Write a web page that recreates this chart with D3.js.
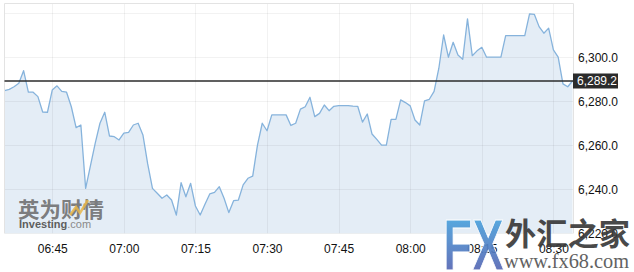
<!DOCTYPE html>
<html>
<head>
<meta charset="utf-8">
<script src="https://cdn.jsdelivr.net/npm/d3@7"></script>
<style>
  html, body { margin: 0; padding: 0; background: #fff; }
  svg { display: block; }
</style>
</head>
<body>
<svg id="chart" width="634" height="272"></svg>
<script>
// ---- data ----
const startTime = "06:35";           // first 1-minute bar
const values = [
  6284.8, 6285.4, 6286.6, 6288.2, 6293.9, 6284.1, 6284.1, 6282.1, 6275.1, 6275.0,
  6285.1, 6287.0, 6284.5, 6284.1, 6277.5, 6268.0, 6269.2, 6240.4, 6250.6, 6260.9,
  6270.0, 6275.0, 6264.2, 6263.9, 6262.4, 6265.5, 6265.9, 6269.2, 6270.0, 6264.7,
  6251.5, 6240.4, 6238.2, 6235.9, 6237.4, 6235.1, 6228.3, 6243.0, 6236.6, 6242.7,
  6232.4, 6228.3, 6233.2, 6237.9, 6238.6, 6241.2, 6235.9, 6229.4, 6234.8, 6235.1,
  6242.0, 6245.0, 6246.0, 6260.1, 6270.0, 6266.6, 6273.8, 6273.8, 6273.8, 6273.8,
  6269.0, 6270.0, 6276.4, 6277.5, 6281.8, 6273.0, 6274.5, 6278.3, 6275.7, 6277.7,
  6278.0, 6278.0, 6278.0, 6277.8, 6277.7, 6270.5, 6274.2, 6265.1, 6262.7, 6260.1,
  6260.1, 6271.8, 6271.8, 6280.6, 6279.4, 6277.9, 6271.5, 6269.2, 6280.2, 6280.9,
  6284.5, 6295.0, 6310.1, 6300.0, 6306.8, 6301.0, 6299.1, 6317.4, 6300.7, 6302.9,
  6304.5, 6300.0, 6300.0, 6300.0, 6300.0, 6309.8, 6309.8, 6309.8, 6309.8, 6309.8,
  6319.7, 6319.5, 6313.9, 6310.9, 6313.2, 6303.3, 6300.0, 6287.9, 6286.6, 6289.2
];
const lastPrice = 6289.2;
const xTickLabels = ["06:45", "07:00", "07:15", "07:30", "07:45", "08:00", "08:15", "08:30"];
const yGridValues = [6220, 6240, 6260, 6280, 6300, 6320];
const yTickValues = [6220, 6240, 6260, 6280, 6300];

// ---- setup ----
const parse = d3.timeParse("%H:%M");
const t0 = parse(startTime);
const data = values.map((v, i) => ({ t: d3.timeMinute.offset(t0, i), v }));
const xTicks = xTickLabels.map(parse);

const plot = { left: 4.5, right: 573.5, top: 3.5, bottom: 233.3 };

const x = d3.scaleTime()
  .domain([data[0].t, data[data.length - 1].t])
  .range([4.5, 572.5]);
const y = d3.scaleLinear()
  .domain([6220, 6324.5])
  .range([233.3, 3.3]);

const svg = d3.select("#chart");
const font = "'Liberation Sans', Arial, sans-serif";

// area
const area = d3.area().x(d => x(d.t)).y0(plot.bottom).y1(d => y(d.v));
svg.append("path").datum(data)
  .attr("d", area)
  .attr("fill", "#e4edf6");

// gridlines
const grid = svg.append("g").attr("stroke", "#000").attr("stroke-opacity", 0.05).attr("stroke-width", 1);
grid.selectAll("line.h").data(yGridValues).join("line")
  .attr("x1", plot.left).attr("x2", plot.right)
  .attr("y1", d => Math.round(y(d)) + 0.5).attr("y2", d => Math.round(y(d)) + 0.5);
grid.selectAll("line.v").data(xTicks).join("line")
  .attr("y1", plot.top).attr("y2", plot.bottom)
  .attr("x1", d => Math.round(x(d)) + 0.5).attr("x2", d => Math.round(x(d)) + 0.5);

// line
const line = d3.line().x(d => x(d.t)).y(d => y(d.v));
svg.append("path").datum(data)
  .attr("d", line)
  .attr("fill", "none")
  .attr("stroke", "#86b3dc")
  .attr("stroke-width", 1.3)
  .attr("stroke-linejoin", "round");

// border (top, left, right)
svg.append("path")
  .attr("d", `M${plot.left},${plot.bottom}V${plot.top}H${plot.right}V${plot.bottom}`)
  .attr("fill", "none").attr("stroke", "#e3e3e3").attr("stroke-width", 1);

// x axis labels
const xAxis = d3.axisBottom(x).tickValues(xTicks).tickFormat(d3.timeFormat("%H:%M")).tickSize(0).tickPadding(0);
const gx = svg.append("g").attr("transform", `translate(0,${plot.bottom + 11})`).call(xAxis);
gx.select(".domain").remove();
gx.selectAll("text").attr("font-family", font).attr("font-size", 12).attr("fill", "#111").attr("dy", "0.71em");

// y axis labels
const yAxis = d3.axisRight(y).tickValues(yTickValues).tickFormat(d3.format(",.1f")).tickSize(0).tickPadding(0);
const gy = svg.append("g").attr("transform", `translate(578,0)`).call(yAxis);
gy.select(".domain").remove();
gy.selectAll("text").attr("font-family", font).attr("font-size", 12).attr("fill", "#111");

// last price line + label
svg.append("line")
  .attr("x1", plot.left).attr("x2", plot.right)
  .attr("y1", y(lastPrice)).attr("y2", y(lastPrice))
  .attr("stroke", "#2b2b2b").attr("stroke-width", 1.3);
svg.append("rect")
  .attr("x", 573).attr("y", y(lastPrice) - 7.5).attr("width", 45).attr("height", 15)
  .attr("fill", "#2b2b2b");
svg.append("text")
  .attr("x", 577).attr("y", y(lastPrice)).attr("dy", "0.35em")
  .attr("font-family", font).attr("font-size", 12).attr("fill", "#fff")
  .text(d3.format(",.1f")(lastPrice));

// watermark: Investing
const wm = svg.append("g");
wm.append("text")
  .attr("x", 18).attr("y", 217)
  .attr("font-family", "'Noto Sans CJK SC', sans-serif").attr("font-weight", "bold")
  .attr("font-size", 21).attr("fill", "#6e6e6e").attr("fill-opacity", 0.9)
  .attr("textLength", 86).attr("lengthAdjust", "spacingAndGlyphs")
  .text("英为财情");
wm.append("path")
  .attr("d", "M70,215 L76,207 L80,213 L88,200")
  .attr("fill", "none").attr("stroke", "#e8b64a").attr("stroke-width", 2.5).attr("stroke-opacity", 0.85);
const inv = wm.append("text")
  .attr("x", 19).attr("y", 228)
  .attr("font-family", font).attr("font-size", 11);
inv.append("tspan").attr("font-weight", "bold").attr("fill", "#5e5e5e").text("Investing");
inv.append("tspan").attr("fill", "#8a8a8a").text(".com");

// watermark: FX68
const defs = svg.append("defs");
const grad = defs.append("linearGradient").attr("id", "fxgrad").attr("x1", 0).attr("y1", 0).attr("x2", 0).attr("y2", 1);
grad.append("stop").attr("offset", "0%").attr("stop-color", "#49b3e8");
grad.append("stop").attr("offset", "100%").attr("stop-color", "#5a56a8");
const fx = svg.append("g").attr("opacity", 0.92);
fx.append("text")
  .attr("x", 443).attr("y", 270)
  .attr("font-family", "'Liberation Sans', Arial, sans-serif").attr("font-weight", "bold")
  .attr("font-size", 72).attr("fill", "url(#fxgrad)")
  .attr("stroke", "#fff").attr("stroke-width", 1)
  .attr("textLength", 61).attr("lengthAdjust", "spacingAndGlyphs")
  .text("FX");
fx.append("text")
  .attr("x", 505).attr("y", 245)
  .attr("font-family", "'Noto Sans CJK SC', sans-serif").attr("font-weight", "bold")
  .attr("font-size", 31).attr("fill", "#3a3a3a")
  .attr("textLength", 125).attr("lengthAdjust", "spacingAndGlyphs")
  .text("外汇之家");
fx.append("text")
  .attr("x", 504).attr("y", 268)
  .attr("font-family", "'Liberation Serif', 'Times New Roman', serif")
  .attr("font-size", 20).attr("fill", "#555")
  .attr("textLength", 125).attr("lengthAdjust", "spacingAndGlyphs")
  .text("www.fx68.com");
</script>
</body>
</html>
